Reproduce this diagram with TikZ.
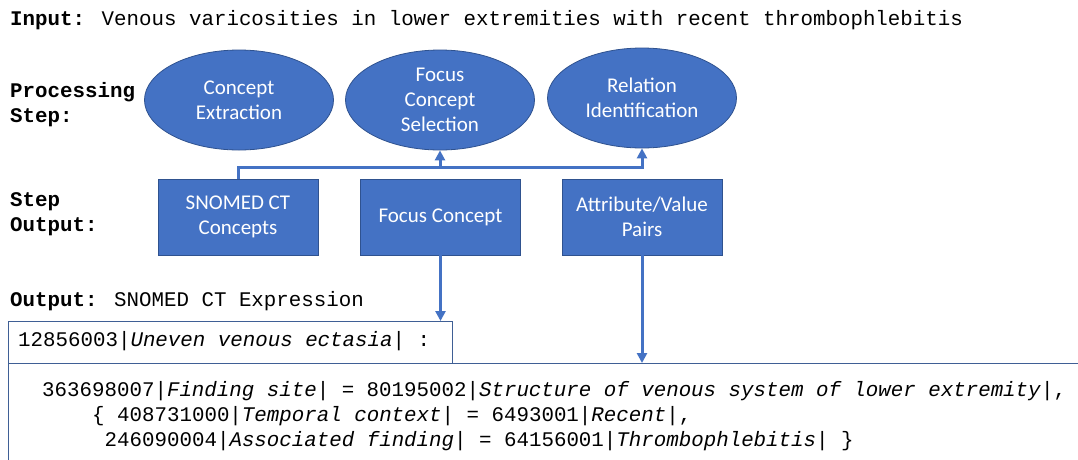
\documentclass[tikz,border=0pt]{standalone}
\usepackage{fontspec}
\usetikzlibrary{shapes.geometric,arrows.meta}
\newfontfamily\monofont{Liberation Mono}
\newfontfamily\calibrifont{Carlito}
\definecolor{officeblue}{HTML}{4472C4}
\definecolor{officeedge}{HTML}{2F528F}
\definecolor{frameedge}{HTML}{3F5F95}
\begin{document}
\begin{tikzpicture}[x=1pt,y=-1pt,
  stepshape/.style={ellipse, fill=officeblue, draw=officeedge, line width=0.8pt,
    inner sep=0pt, minimum width=189pt, minimum height=100pt, text=white,
    align=center, font=\calibrifont\fontsize{21}{25}\selectfont},
  outshape/.style={rectangle, fill=officeblue, draw=officeedge, line width=0.8pt,
    inner sep=0pt, minimum width=160pt, minimum height=76pt, text=white,
    align=center, font=\calibrifont\fontsize{21}{25}\selectfont},
  caption/.style={anchor=base west, inner sep=0pt,
    font=\monofont\fontsize{20.8}{25}\selectfont},
  frame/.style={rectangle, draw=frameedge, line width=1.2pt, inner sep=0pt,
    anchor=north west},
  conn/.style={draw=officeblue, line width=3pt},
  arr/.style={conn, -{Triangle[length=10pt,width=10pt]}}
]
\useasboundingbox (0,0) rectangle (1078,459);
\clip (0,0) rectangle (1078,459);
\fill[white] (0,0) rectangle (1078,459);

% row labels
\node[caption] (inlabel) at (10,25) {\textbf{Input:} Venous varicosities in lower extremities with recent thrombophlebitis};
\node[caption] (proclabel1) at (10,97) {\textbf{Processing}};
\node[caption] (proclabel2) at (10,122) {\textbf{Step:}};
\node[caption] (steplabel1) at (10,206) {\textbf{Step}};
\node[caption] (steplabel2) at (10,231) {\textbf{Output:}};
\node[caption] (outlabel) at (10,306) {\textbf{Output:} SNOMED CT Expression};

% processing steps
\node[stepshape] (extract) at (239,100) {Concept\\Extraction};
\node[stepshape] (focussel) at (440,100) {Focus\\Concept\\Selection};
\node[stepshape] (relation) at (642,98) {Relation\\Identification};

% step outputs
\node[outshape] (snomed) at (238,217) {SNOMED CT\\Concepts};
\node[outshape] (focusbox) at (440.5,217) {Focus Concept};
\node[outshape] (attrbox) at (642,217) {Attribute/Value\\Pairs};

% expression frames
\node[frame, minimum width=444pt, minimum height=42pt] (exprhead) at (8,321) {};
\node[frame, minimum width=1100pt, minimum height=130pt] (exprbody) at (8,363) {};

% expression text
\node[caption] (headtext) at (18,346) {12856003|\textit{Uneven venous ectasia}| :};
\node[caption] (bodyline1) at (42,396) {363698007|\textit{Finding site}| = 80195002|\textit{Structure of venous system of lower extremity}|,};
\node[caption] (bodyline2) at (92,421) {\{ 408731000|\textit{Temporal context}| = 6493001|\textit{Recent}|,};
\node[caption] (bodyline3) at (104.5,446) {246090004|\textit{Associated finding}| = 64156001|\textit{Thrombophlebitis}| \}};

% connectors
\coordinate (bus) at (238,167);
\draw[arr] (snomed.north) -- (bus) -| (relation.south);
\draw[arr] (focussel.south |- bus) -- (focussel.south);
\draw[arr] (focusbox.south) -- (focusbox.south |- exprhead.north);
\draw[arr] (attrbox.south) -- (attrbox.south |- exprbody.north);
\end{tikzpicture}
\end{document}
